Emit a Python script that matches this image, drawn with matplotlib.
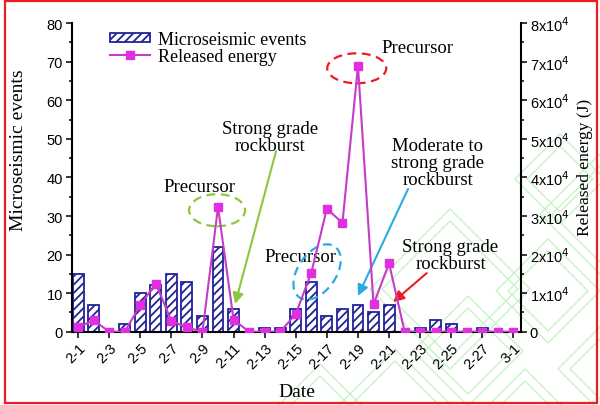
import matplotlib
matplotlib.use("Agg")
import matplotlib.pyplot as plt
import matplotlib.ticker as ticker
import matplotlib.transforms as mtransforms
from matplotlib.patches import Ellipse, Rectangle, Polygon

# data
dates = ["2-1", "2-2", "2-3", "2-4", "2-5", "2-6", "2-7", "2-8", "2-9", "2-10",
         "2-11", "2-12", "2-13", "2-14", "2-15", "2-16", "2-17", "2-18", "2-19",
         "2-20", "2-21", "2-22", "2-23", "2-24", "2-25", "2-26", "2-27", "2-28",
         "3-1"]
events = [15, 7, 0, 2, 10, 12, 15, 13, 4, 22, 6, 0, 1, 1, 6, 13, 4, 6, 7, 5, 7,
          0, 1, 3, 2, 0, 1, 0, 0]
energy = [1100, 3000, 0, 0, 6900, 12500, 2800, 1100, 0, 32300, 3100, 0, 0, 0,
          4600, 15300, 31900, 28200, 68900, 7100, 17700, 0, 0, 0, 0, 0, 0, 0, 0]

NAVY = "#22229a"
MAGENTA = "#c63cc8"
GREEN = "#8dc63f"
BLUE = "#29abe2"
RED = "#ed1c24"
SERIF = "Liberation Serif"
SANS = "Liberation Sans"

plt.rcParams["font.family"] = SERIF
plt.rcParams["hatch.linewidth"] = 1.3

fig = plt.figure(figsize=(6.0, 4.06), dpi=100)

# faint watermark behind everything (pixel coords)
bg = fig.add_axes([0, 0, 1, 1], zorder=-5)
bg.set_xlim(0, 600)
bg.set_ylim(406, 0)
bg.axis("off")
for cx, cy, r in [(600, 215, 60), (548, 292, 52), (468, 352, 55), (600, 370, 42),
                  (395, 410, 60), (525, 410, 40), (320, 425, 60), (450, 290, 80),
                  (560, 180, 45)]:
    for rr in (r, r - 12):
        bg.add_patch(Polygon([(cx, cy - rr), (cx + rr, cy), (cx, cy + rr), (cx - rr, cy)],
                             closed=True, fill=False, ec="#c4f4c4", lw=1.0))
bg.add_patch(Rectangle((5, 2), 592, 402, fill=False, ec=RED, lw=1.6))

ax = fig.add_axes([0.12, 0.1805, 0.748, 0.760])
ax.set_facecolor("none")
x = list(range(len(dates)))

bars = ax.bar(x, events, width=0.7, color="white", edgecolor=NAVY, hatch="////",
              linewidth=1.3, label="Microseismic events", zorder=2)
ax.set_xlim(-0.39, 28.47)
ax.set_ylim(0, 80)
ax.yaxis.set_major_locator(ticker.MultipleLocator(10))
ax.yaxis.set_minor_locator(ticker.MultipleLocator(5))
ax.set_xticks(x[::2])
ax.set_xticklabels(dates[::2], rotation=45, ha="right", rotation_mode="anchor",
                   fontfamily=SANS, fontsize=10.5)
for lab in ax.get_yticklabels():
    lab.set_fontfamily(SANS)
ax.tick_params(axis="y", which="major", direction="out", length=4.5, width=1.1,
               labelsize=10.5, pad=2)
ax.tick_params(axis="y", which="minor", direction="out", length=2.5, width=1.1)
ax.tick_params(axis="x", direction="out", length=4, width=1.1, pad=2)
for side in ("top", "right"):
    ax.spines[side].set_visible(False)
for side in ("left", "bottom"):
    ax.spines[side].set_linewidth(1.5)
ax.set_ylabel("Microseismic events", fontsize=14)
ax.yaxis.set_label_coords(-0.10, 0.592)
ax.set_xlabel("Date", fontsize=14, labelpad=9)

ax2 = ax.twinx()
line, = ax2.plot(x, energy, "-s", color=MAGENTA, lw=1.5, markersize=5.5,
                 markerfacecolor="#e02ee0", markeredgecolor="#e02ee0",
                 label="Released energy", zorder=3)
ax2.set_ylim(0, 8e4)
ax2.yaxis.set_major_locator(ticker.MultipleLocator(1e4))
ax2.yaxis.set_minor_locator(ticker.MultipleLocator(5e3))
ax2.yaxis.set_major_formatter(ticker.FuncFormatter(
    lambda v, p: "0" if v == 0 else f"{int(round(v / 1e4))}x10$^{{4}}$"))
for lab in ax2.get_yticklabels():
    lab.set_fontfamily(SANS)
ax2.tick_params(axis="y", which="major", direction="out", length=4.5, width=1.1,
                labelsize=10.5, pad=2)
ax2.tick_params(axis="y", which="minor", direction="out", length=2.5, width=1.1)
ax2.spines["top"].set_visible(False)
ax2.spines["left"].set_visible(False)
ax2.spines["bottom"].set_visible(False)
ax2.spines["right"].set_linewidth(1.5)
ax2.set_ylabel("Released energy (J)", fontsize=12.5)
ax2.yaxis.set_label_coords(1.125, 0.537)

ax2.legend(handles=[bars, line], loc="upper left", bbox_to_anchor=(0.085, 0.975),
           frameon=False, fontsize=13, labelspacing=0.0, handlelength=2.2,
           handleheight=0.45, handletextpad=0.45, borderpad=0, borderaxespad=0)

# annotations (left-axis data coords)
txt = dict(fontsize=13.5, ha="center", va="center", linespacing=1.0, zorder=5)
ax.text(7.78, 37.7, "Precursor", **txt)
ax.text(12.35, 50.6, "Strong grade\nrockburst", **txt)
ax.text(14.28, 19.4, "Precursor", **txt)
ax.text(21.8, 73.8, "Precursor", **txt)
ax.text(23.12, 44.0, "Moderate to\nstrong grade\nrockburst", **txt)
ax.text(23.95, 19.9, "Strong grade\nrockburst", **txt)

for (x0, y0), (x1, y1), c in [((12.73, 46.8), (10.1, 7.2), GREEN),
                              ((21.22, 37.0), (18.0, 9.3), BLUE),
                              ((22.42, 15.2), (20.26, 7.7), RED)]:
    ax.annotate("", xy=(x1, y1), xytext=(x0, y0),
                arrowprops=dict(arrowstyle="-|>", color=c, lw=1.5,
                                mutation_scale=16, shrinkA=0, shrinkB=0),
                zorder=5)

# dashed ellipses, sized in inches around a data-coordinate centre
for cx, cy, w, h, ang, c in [(8.94, 31.5, 0.56, 0.32, 0, GREEN),
                             (17.92, 68.3, 0.59, 0.30, 0, RED),
                             (15.37, 15.5, 0.62, 0.38, 55, BLUE)]:
    tr = fig.dpi_scale_trans + mtransforms.ScaledTranslation(cx, cy, ax.transData)
    ax.add_artist(Ellipse((0, 0), w, h, angle=ang, transform=tr, fill=False,
                          ec=c, lw=1.6, ls=(0, (4, 2.5)), zorder=5))

fig.savefig("out.png", dpi=100)
